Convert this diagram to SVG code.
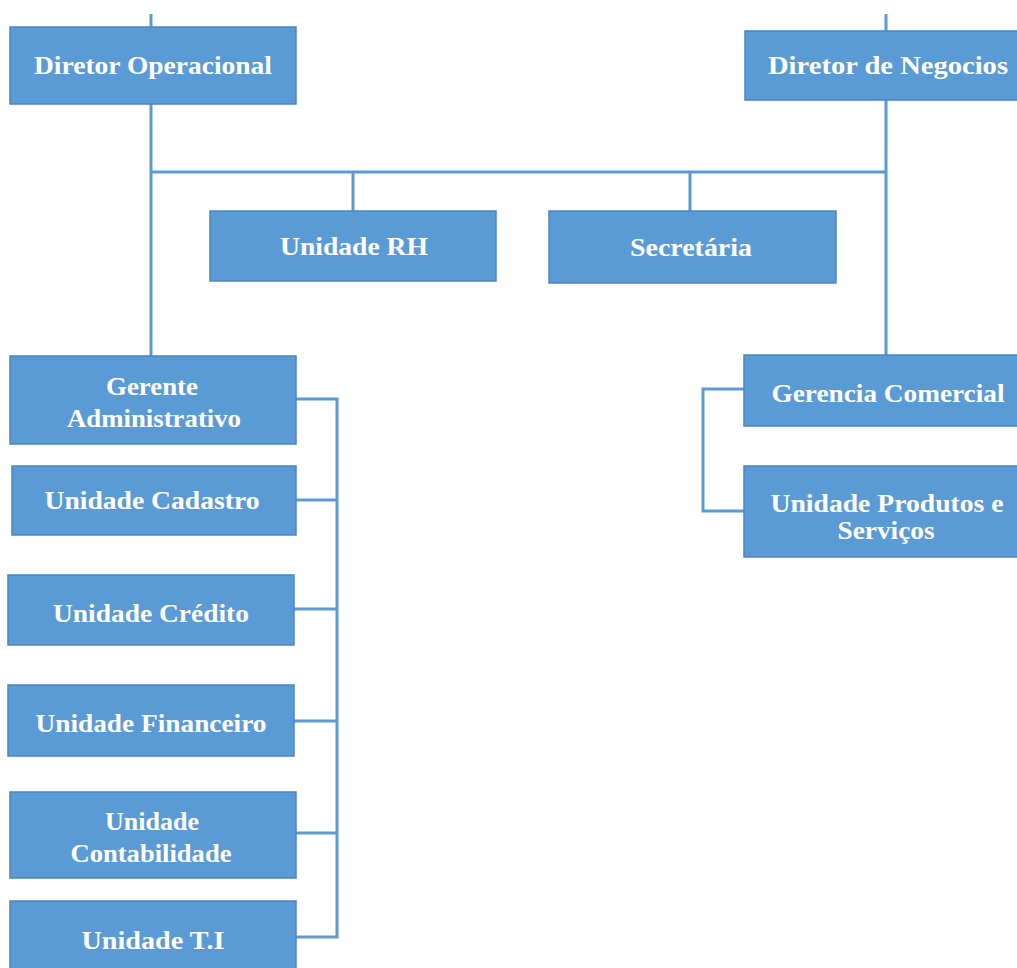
<svg xmlns="http://www.w3.org/2000/svg" width="1017" height="968" viewBox="0 0 1017 968">
<style>
.box{fill:#5b9bd5;stroke:#4a86c0;stroke-width:1.5}
.t{font-family:"Liberation Serif","Times New Roman",serif;font-weight:bold;font-size:26px;fill:#ffffff;text-anchor:middle}
.c{fill:none;stroke:#5b9bd5;stroke-width:3}
</style>
<rect width="1017" height="968" fill="#ffffff"/>
<g id="connectors">
<path class="c" d="M151 14V27"/>
<path class="c" d="M886 14V31"/>
<path class="c" d="M151 104V356"/>
<path class="c" d="M151 172H886"/>
<path class="c" d="M886 100V355"/>
<path class="c" d="M353 172V211"/>
<path class="c" d="M690 172V211"/>
<path class="c" d="M296 399H337V937H296"/>
<path class="c" d="M296 500H337"/>
<path class="c" d="M294 609H337"/>
<path class="c" d="M294 721H337"/>
<path class="c" d="M296 833H337"/>
<path class="c" d="M744 389H703V511H744"/>
</g>
<g id="diretor-operacional">
<rect class="box" x="10" y="27" width="286" height="77"/>
<text class="t" x="153" y="74" textLength="238" lengthAdjust="spacingAndGlyphs">Diretor Operacional</text>
</g>
<g id="diretor-negocios">
<rect class="box" x="745" y="31" width="280" height="69"/>
<text class="t" x="888" y="74" textLength="240" lengthAdjust="spacingAndGlyphs">Diretor de Negocios</text>
</g>
<g id="unidade-rh">
<rect class="box" x="210" y="211" width="286" height="70"/>
<text class="t" x="354" y="255" textLength="148" lengthAdjust="spacingAndGlyphs">Unidade RH</text>
</g>
<g id="secretaria">
<rect class="box" x="549" y="211" width="287" height="72"/>
<text class="t" x="691" y="256" textLength="122" lengthAdjust="spacingAndGlyphs">Secretária</text>
</g>
<g id="gerente-administrativo">
<rect class="box" x="10" y="356" width="286" height="88"/>
<text class="t" x="152" y="395" textLength="92" lengthAdjust="spacingAndGlyphs">Gerente</text>
<text class="t" x="154" y="427" textLength="174" lengthAdjust="spacingAndGlyphs">Administrativo</text>
</g>
<g id="unidade-cadastro">
<rect class="box" x="12" y="466" width="284" height="69"/>
<text class="t" x="152" y="509" textLength="215" lengthAdjust="spacingAndGlyphs">Unidade Cadastro</text>
</g>
<g id="unidade-credito">
<rect class="box" x="8" y="575" width="286" height="70"/>
<text class="t" x="151" y="622" textLength="196" lengthAdjust="spacingAndGlyphs">Unidade Crédito</text>
</g>
<g id="unidade-financeiro">
<rect class="box" x="8" y="685" width="286" height="71"/>
<text class="t" x="151" y="732" textLength="231" lengthAdjust="spacingAndGlyphs">Unidade Financeiro</text>
</g>
<g id="unidade-contabilidade">
<rect class="box" x="10" y="792" width="286" height="86"/>
<text class="t" x="152" y="830" textLength="94" lengthAdjust="spacingAndGlyphs">Unidade</text>
<text class="t" x="151" y="862" textLength="161" lengthAdjust="spacingAndGlyphs">Contabilidade</text>
</g>
<g id="unidade-ti">
<rect class="box" x="10" y="901" width="286" height="80"/>
<text class="t" x="153" y="949" textLength="143" lengthAdjust="spacingAndGlyphs">Unidade T.I</text>
</g>
<g id="gerencia-comercial">
<rect class="box" x="744" y="355" width="280" height="71"/>
<text class="t" x="888" y="402" textLength="233" lengthAdjust="spacingAndGlyphs">Gerencia Comercial</text>
</g>
<g id="unidade-produtos">
<rect class="box" x="744" y="466" width="280" height="91"/>
<text class="t" x="887" y="512" textLength="233" lengthAdjust="spacingAndGlyphs">Unidade Produtos e</text>
<text class="t" x="886" y="539" textLength="97" lengthAdjust="spacingAndGlyphs">Serviços</text>
</g>
</svg>
